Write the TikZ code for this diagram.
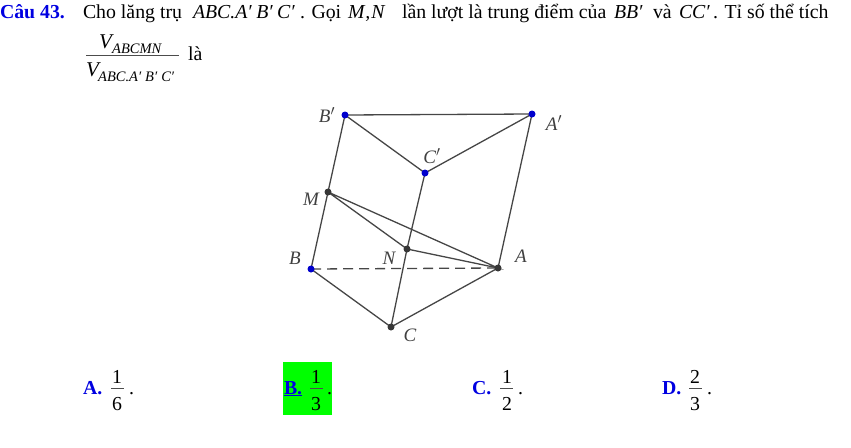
\documentclass[tikz,border=0pt]{standalone}
\usepackage{fontspec}
\setmainfont{Liberation Serif}
\newcommand{\pr}{\char"2032\relax}
\definecolor{qblue}{RGB}{0,0,225}
\definecolor{hl}{RGB}{0,255,0}
\definecolor{ptblue}{RGB}{0,0,205}
\definecolor{ptdark}{RGB}{55,55,55}
\definecolor{edge}{RGB}{70,70,70}
\tikzset{
  txt/.style={anchor=base west,inner sep=0pt,outer sep=0pt,font=\fontsize{19.8}{22}\selectfont},
  itxt/.style={anchor=base west,inner sep=0pt,outer sep=0pt,font=\fontsize{19.8}{22}\selectfont\itshape},
  vtxt/.style={anchor=base west,inner sep=0pt,outer sep=0pt,font=\fontsize{21}{22}\selectfont\itshape},
  qlabel/.style={anchor=base west,inner sep=0pt,outer sep=0pt,text=qblue,font=\fontsize{19.8}{22}\selectfont\bfseries},
  sublab/.style={anchor=base west,inner sep=0pt,font=\fontsize{14.5}{16}\selectfont\itshape},
  ptlab/.style={anchor=center,inner sep=0pt,font=\fontsize{19}{20}\selectfont\itshape,text=black!75},
  frac/.style={anchor=base,inner sep=0pt,font=\fontsize{19.8}{22}\selectfont},
  bluept/.style={circle,fill=ptblue,draw=none,minimum size=7pt,inner sep=0pt},
  darkpt/.style={circle,fill=ptdark,draw=none,minimum size=7pt,inner sep=0pt},
  seg/.style={draw=edge,line width=1.3pt},
  rulebar/.style={draw=black!70,line width=0.9pt}
}
\begin{document}
\begin{tikzpicture}[x=1pt,y=-1pt]
\useasboundingbox (0,0) rectangle (851,447);
% text
\node[qlabel] (q) at (0,18) {Câu 43.};
\node[txt] (t1) at (83,18) {Cho lăng trụ};
\node[itxt] (t2) at (193,18) {ABC.A\pr\kern4.5pt B\pr\kern4.5pt C\pr};
\node[txt] (t3) at (300,18) {. Gọi};
\node[itxt] (t4) at (348,18) {M\kern1pt,\kern1pt N};
\node[txt] (t5) at (402,18) {lần lượt là trung điểm của};
\node[itxt] (t6) at (614,18) {BB\pr};
\node[txt] (t7) at (653,18) {và};
\node[itxt] (t8) at (679,18) {CC\pr};
\node[txt] (t9) at (713,18) {. Tỉ số thể tích};
% volume fraction
\node[vtxt] (v1) at (99,48) {V};
\node[sublab] (v1s) at (112,53) {ABCMN};
\coordinate (fa) at (86,55); \coordinate (fb) at (179,55);
\draw[rulebar] (fa) -- (fb);
\node[vtxt] (v2) at (86,76) {V};
\node[sublab] (v2s) at (98,81) {ABC.A\pr\kern4pt B\pr\kern4pt C\pr};
\node[txt] (la) at (188,60) {là};
% figure
\coordinate (Bp) at (345,115);
\coordinate (Ap) at (532,114);
\coordinate (Cp) at (425,173);
\coordinate (M) at (328,192);
\coordinate (N) at (407,249);
\coordinate (B) at (311,269);
\coordinate (A) at (498,268);
\coordinate (C) at (391,327);
\draw[seg] (Bp) -- (Ap) -- (Cp) -- (Bp) -- (M) -- (B) -- (C) -- (A) -- (Ap);
\draw[seg] (Cp) -- (N) -- (C);
\draw[seg] (M) -- (N) -- (A) -- (M);
\draw[seg,dash pattern=on 10pt off 6pt] (B) -- (A);
\node[bluept] (nBp) at (Bp) {};
\node[bluept] (nAp) at (Ap) {};
\node[bluept] (nCp) at (Cp) {};
\node[bluept] (nB) at (B) {};
\node[darkpt] (nM) at (M) {};
\node[darkpt] (nN) at (N) {};
\node[darkpt] (nA) at (A) {};
\node[darkpt] (nC) at (C) {};
\node[ptlab] at (327,115) {B$'$};
\node[ptlab] at (554,123) {A$'$};
\node[ptlab] at (432,156) {C$'$};
\node[ptlab] at (311,199) {M};
\node[ptlab] at (295,258) {B};
\node[ptlab] at (389,258) {N};
\node[ptlab] at (521,256) {A};
\node[ptlab] at (410,335) {C};
% answers
\fill[hl] (283,362) rectangle (332,415);
\node[qlabel] (a) at (83,394) {A.};
\node[frac] (a1) at (117,383) {1};
\draw[rulebar] (111,388.5) -- (124,388.5);
\node[frac] (a2) at (117,410) {6};
\node[txt] (ad) at (129,394) {.};
\node[qlabel] (b) at (284,394) {\underline{B.}};
\node[frac] (b1) at (316,383) {1};
\draw[rulebar] (310,388.5) -- (323,388.5);
\node[frac] (b2) at (316,410) {3};
\node[txt] (bd) at (327,394) {.};
\node[qlabel] (c) at (472,394) {C.};
\node[frac] (c1) at (507,383) {1};
\draw[rulebar] (500,388.5) -- (513,388.5);
\node[frac] (c2) at (507,410) {2};
\node[txt] (cd) at (518,394) {.};
\node[qlabel] (d) at (662,394) {D.};
\node[frac] (d1) at (695,383) {2};
\draw[rulebar] (689,388.5) -- (702,388.5);
\node[frac] (d2) at (695,410) {3};
\node[txt] (dd) at (707,394) {.};
\end{tikzpicture}
\end{document}
